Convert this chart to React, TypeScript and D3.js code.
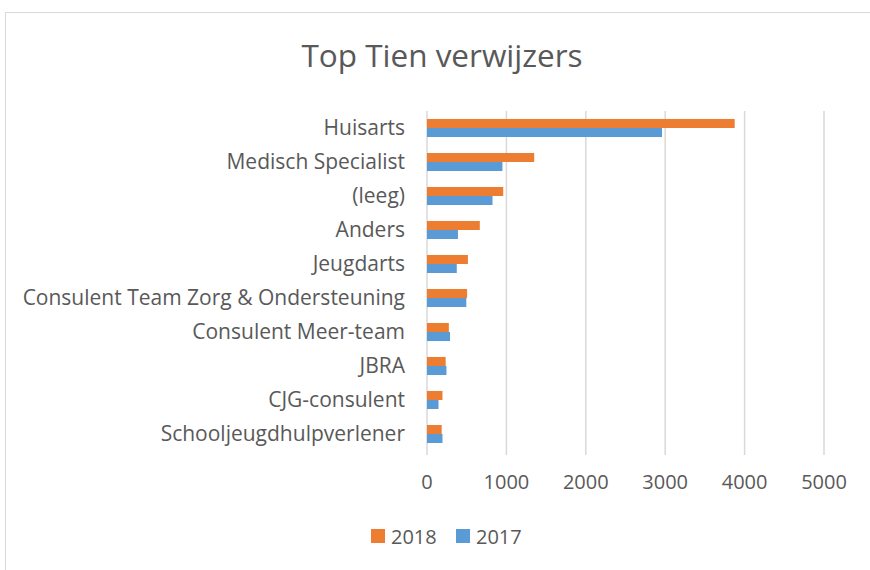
import React from 'react';
import * as d3 from 'd3';

const categories = [
  'Huisarts',
  'Medisch Specialist',
  '(leeg)',
  'Anders',
  'Jeugdarts',
  'Consulent Team Zorg & Ondersteuning',
  'Consulent Meer-team',
  'JBRA',
  'CJG-consulent',
  'Schooljeugdhulpverlener',
];
const values2018 = [3875, 1350, 960, 665, 515, 505, 275, 235, 195, 185];
const values2017 = [2960, 950, 825, 390, 375, 495, 290, 245, 145, 195];
const seriesNames = ['2018', '2017'];
const ticks = [0, 1000, 2000, 3000, 4000, 5000];

const W = 870, H = 570;
const plot = { left: 427, right: 824, top: 111, bottom: 451 };
const colors: Record<string, string> = { '2018': '#ED7D31', '2017': '#5B9BD5' };
const font = '"Open Sans", Lato, sans-serif';
const textColor = '#595959';

const App = () => {
  const x = d3.scaleLinear().domain([0, 5000]).range([plot.left, plot.right]);
  const y = d3.scaleBand().domain(categories).range([plot.top, plot.bottom]).paddingInner(0.47).paddingOuter(0.235);
  const sub = d3.scaleBand().domain(seriesNames).range([0, y.bandwidth()]);
  const values: Record<string, number[]> = { '2018': values2018, '2017': values2017 };

  return (
    <svg width={W} height={H} style={{ position: 'absolute', left: 0, top: 0, background: '#fff' }}>
      {/* chart border */}
      <rect x={5.5} y={12.5} width={W + 10} height={H + 10} fill="#fff" stroke="#d9d9d9" />
      <text x={442} y={67} textAnchor="middle" fontFamily={font} fontSize={31.5} fill={textColor}>
        Top Tien verwijzers
      </text>
      {/* gridlines */}
      {ticks.map((t) => (
        <line key={t} x1={x(t)} x2={x(t)} y1={plot.top} y2={plot.bottom + 4} stroke="#d9d9d9" strokeWidth={1.5} />
      ))}
      {/* bars */}
      {categories.map((c, i) => (
        <g key={c}>
          {seriesNames.map((s) => (
            <rect
              key={s}
              x={x(0)}
              y={(y(c) as number) + (sub(s) as number)}
              width={x(values[s][i]) - x(0)}
              height={sub.bandwidth()}
              fill={colors[s]}
            />
          ))}
          <text
            x={405}
            y={(y(c) as number) + y.bandwidth() / 2}
            dy="0.35em"
            textAnchor="end"
            fontFamily={font}
            fontSize={21}
            fill={textColor}
          >
            {c}
          </text>
        </g>
      ))}
      {/* x tick labels */}
      {ticks.map((t) => (
        <text key={t} x={x(t)} y={489} textAnchor="middle" fontFamily={font} fontSize={20} fill={textColor}>
          {t}
        </text>
      ))}
      {/* legend */}
      {seriesNames.map((s, i) => (
        <g key={s} transform={`translate(${371 + i * 85},529)`}>
          <rect width={14} height={14} fill={colors[s]} />
          <text x={20} y={15} fontFamily={font} fontSize={20} fill={textColor}>
            {s}
          </text>
        </g>
      ))}
    </svg>
  );
};

export default App;
